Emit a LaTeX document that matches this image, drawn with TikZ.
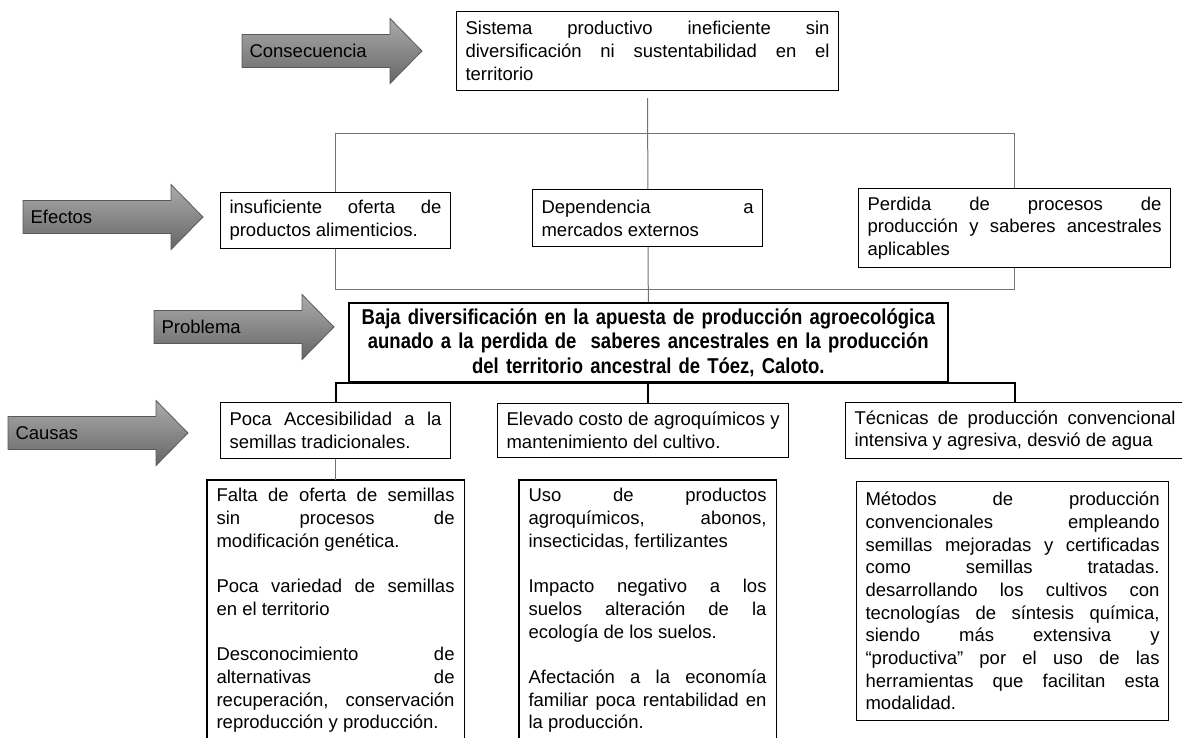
\documentclass[tikz,border=0pt]{standalone}
\usepackage{fontspec}
\setmainfont{Liberation Sans}
\newfontfamily\problemfont[FakeStretch=0.86]{Liberation Sans}
\usetikzlibrary{backgrounds}
\setlength{\parindent}{0pt}
\hyphenpenalty=10000
\exhyphenpenalty=10000
\tolerance=10000

\begin{document}
\begin{tikzpicture}[x=1pt,y=-1pt,
  font=\fontsize{18.5}{22.7}\selectfont,
  caja/.style={draw, line width=1.1pt, fill=white, anchor=north west, inner xsep=9pt, inner ysep=0pt, align=justify, text width=#1},
  rama/.style={draw=black!55, line width=1pt},
  tronco/.style={draw=black, line width=2pt},
  flecha/.style={draw=black!65, line width=0.8pt, top color=black!33, bottom color=black!60}]

\useasboundingbox (0,0) rectangle (1182,738);

% flechas de la izquierda
\foreach \nombre/\x/\y/\texto in {cons/242/51/Consecuencia, efec/23/217/Efectos, prob/154/327/Problema, caus/8/433/Causas}{
  \path[flecha] (\x,\y-16.5) -- ++(148,0) -- ++(0,-16) -- ++(32,32.5) -- ++(-32,32.5) -- ++(0,-16) -- ++(-148,0) -- cycle;
  \node[anchor=west] (\nombre) at (\x+4,\y) {\texto};
}

% consecuencia y efectos
\node[caja=364pt, minimum height=79pt] (sistema) at (456,11) {Sistema productivo ineficiente sin\linebreak diversificación ni sustentabilidad en el\linebreak territorio};
\node[caja=212pt, minimum height=56pt] (insuf) at (220,192) {insuficiente oferta de\linebreak productos alimenticios.};
\node[caja=212pt, minimum height=57pt] (depend) at (532,189) {Dependencia a\linebreak mercados externos};
\node[caja=294pt, minimum height=79pt] (perdida) at (858,188) {Perdida de procesos de\linebreak producción y saberes ancestrales\linebreak aplicables};

% problema
\node[caja=581pt, minimum height=79pt, align=center, line width=1.6pt, font=\problemfont\bfseries\fontsize{21.5}{24.5}\selectfont] (problema) at (348,302) {Baja diversificación en la apuesta de producción agroecológica\\ aunado a la perdida de \ saberes ancestrales en la producción\\ del territorio ancestral de Tóez, Caloto.};

% causas
\node[caja=212pt, minimum height=56pt] (poca) at (220,402) {Poca Accesibilidad a la\linebreak semillas tradicionales.};
\node[caja=273pt, minimum height=54pt] (elevado) at (497,403) {Elevado costo de agroquímicos y\linebreak mantenimiento del cultivo.};
\node[caja=321pt, minimum height=56pt] (tecnicas) at (845,402) {Técnicas de producción convencional\linebreak intensiva y agresiva, desvió de agua};

\node[caja=238pt, inner ysep=8pt, draw=none] (falta) at (207,480) {Falta de oferta de semillas\linebreak sin procesos de\linebreak modificación genética.\par\vspace{22.7pt}
Poca variedad de semillas\linebreak en el territorio\par\vspace{22.7pt}
Desconocimiento de\linebreak alternativas de\linebreak recuperación, conservación\linebreak reproducción y producción.};
\node[caja=238pt, inner ysep=8pt, draw=none] (uso) at (519,480) {Uso de productos\linebreak agroquímicos, abonos,\linebreak insecticidas, fertilizantes\par\vspace{22.7pt}
Impacto negativo a los\linebreak suelos alteración de la\linebreak ecología de los suelos.\par\vspace{22.7pt}
Afectación a la economía\linebreak familiar poca rentabilidad en\linebreak la producción.};
\node[caja=294pt, minimum height=239pt] (metodos) at (856,481) {Métodos de producción\linebreak convencionales empleando\linebreak semillas mejoradas y certificadas\linebreak como semillas tratadas.\linebreak desarrollando los cultivos con\linebreak tecnologías de síntesis química,\linebreak siendo más extensiva y\linebreak “productiva” por el uso de las\linebreak herramientas que facilitan esta\linebreak modalidad.};

\draw[line width=1.1pt] ([yshift=-20pt]falta.south west) |- (falta.north east) -- ([yshift=-20pt]falta.south east);
\draw[line width=1.1pt] ([yshift=-20pt]uso.south west) |- (uso.north east) -- ([yshift=-20pt]uso.south east);

% lineas
\begin{scope}[on background layer]
\coordinate (arriba) at (0,134);
\coordinate (abajo) at (0,289);
\draw[rama] ([yshift=-7pt]sistema.south) -- (problema.north);
\draw[rama] (insuf.center |- arriba) rectangle (perdida.center |- abajo);
\end{scope}

\draw[tronco] (poca.north) -- (poca.north |- problema.south) -- (tecnicas.north |- problema.south) -- (tecnicas.north);
\draw[tronco] (problema.south) -- (problema.south |- elevado.north);
\draw[rama] (poca.south) -- (falta.north);

\end{tikzpicture}
\end{document}
